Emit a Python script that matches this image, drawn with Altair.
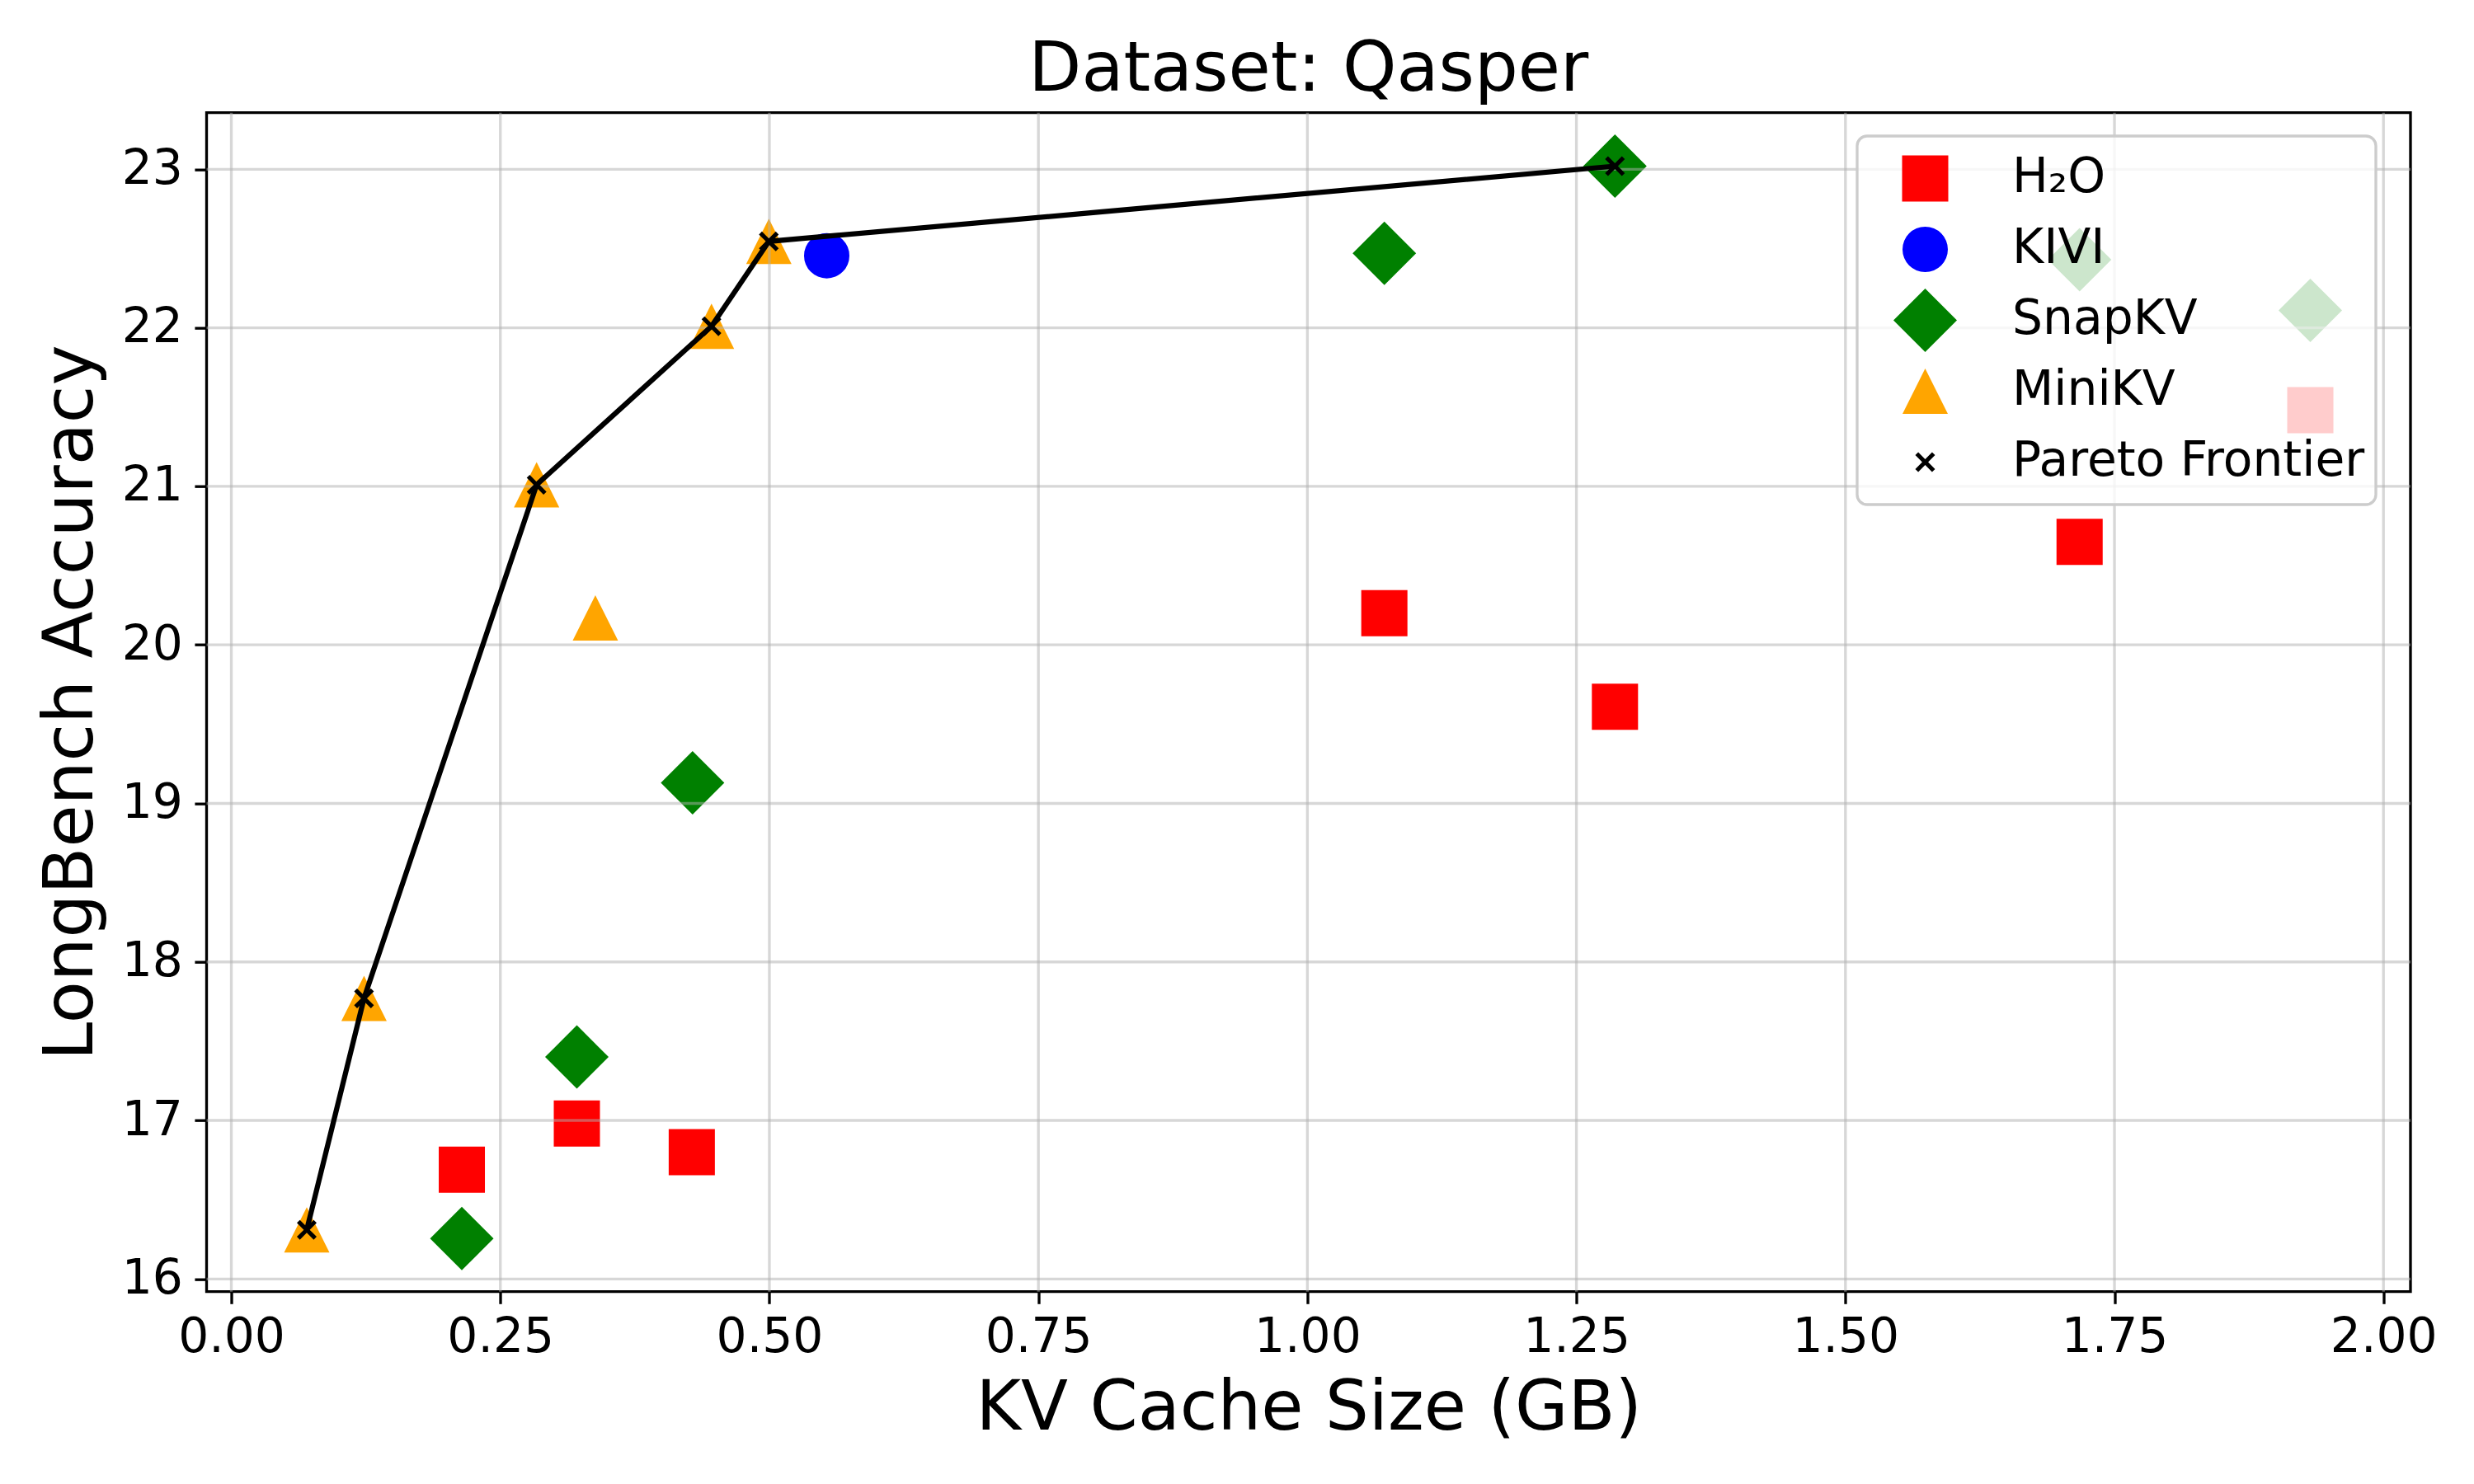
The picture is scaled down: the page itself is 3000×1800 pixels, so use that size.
import altair as alt
import pandas as pd

# ---- data ----
methods = ["H\u2082O", "KIVI", "SnapKV", "MiniKV", "Pareto Frontier"]
colors = ["#ff0000", "#0000ff", "#008000", "#ffa500", "#000000"]

h2o_x = [0.2142, 0.3211, 0.4279, 1.0715, 1.2858, 1.7176]
h2o_y = [16.69, 16.98, 16.80, 20.20, 19.61, 20.65]
h2o_faded_x = [1.932]
h2o_faded_y = [21.48]

kivi_x = [0.5533]
kivi_y = [22.455]

snap_x = [0.2142, 0.3211, 0.4286, 1.0715, 1.2858]
snap_y = [16.255, 17.40, 19.13, 22.47, 23.02]
snap_faded_x = [1.7176, 1.932]
snap_faded_y = [22.43, 22.11]

mini_x = [0.0701, 0.1233, 0.2837, 0.3383, 0.4462, 0.4995]
mini_y = [16.31, 17.77, 21.01, 20.17, 22.01, 22.545]

pareto_x = [0.0701, 0.1233, 0.2837, 0.4462, 0.4995, 1.2858]
pareto_y = [16.31, 17.77, 21.01, 22.01, 22.545, 23.02]

x_ticks = [0.0, 0.25, 0.5, 0.75, 1.0, 1.25, 1.5, 1.75, 2.0]
y_ticks = [16, 17, 18, 19, 20, 21, 22, 23]

# ---- style ----
FONT = "DejaVu Sans"
TRI = "M0,-1L1,1L-1,1Z"
d = 0.3
XPATH = (f"M-1,-{1-d}L-{1-d},-1L0,-{d}L{1-d},-1L1,-{1-d}L{d},0L1,{1-d}"
         f"L{1-d},1L0,{d}L-{1-d},1L-1,{1-d}L-{d},0Z")
shapes = ["square", "circle", "diamond", TRI, XPATH]
sizes = [3136, 3025, 5929, 3025, 576]


def frame(xs, ys, name):
    return pd.DataFrame({"x": xs, "y": ys, "method": [name] * len(xs)})


main_df = pd.concat([
    frame(h2o_x, h2o_y, methods[0]),
    frame(kivi_x, kivi_y, methods[1]),
    frame(snap_x, snap_y, methods[2]),
    frame(mini_x, mini_y, methods[3]),
], ignore_index=True)
faded_df = pd.concat([
    frame(h2o_faded_x, h2o_faded_y, methods[0]),
    frame(snap_faded_x, snap_faded_y, methods[2]),
], ignore_index=True)
pareto_df = frame(pareto_x, pareto_y, methods[4])

X_TITLE = "KV Cache Size (GB)"
Y_TITLE = "LongBench Accuracy"

xscale = alt.Scale(domain=[-0.0230, 2.0251], nice=False, zero=False)
yscale = alt.Scale(domain=[15.92, 23.357], nice=False, zero=False)

x_axis = alt.Axis(values=x_ticks, format=".2f", grid=False, domain=False,
                  ticks=True, tickColor="black", tickWidth=3.33, tickSize=14.6,
                  labelFont=FONT, labelFontSize=58.3, labelColor="black",
                  labelPadding=12.7, labelFlush=False, labelOverlap=False,
                  titleFont=FONT, titleFontSize=83.3, titleFontWeight="normal",
                  titleColor="black", titlePadding=16)
y_axis = alt.Axis(values=y_ticks, format="d", grid=False, domain=False,
                  ticks=True, tickColor="black", tickWidth=3.33, tickSize=14.6,
                  labelFont=FONT, labelFontSize=58.3, labelColor="black",
                  labelPadding=14.6, labelFlush=False, labelOverlap=False,
                  titleFont=FONT, titleFontSize=83.3, titleFontWeight="normal",
                  titleColor="black", titlePadding=19)

# Legend box is white at 80% opacity, drawn over the marks (as in the reference)
legend = alt.Legend(title=None, orient="none", legendX=2001.5, legendY=28.3,
                    direction="vertical", labelFont=FONT, labelFontSize=58.3,
                    labelColor="black", labelLimit=2000, labelOffset=67,
                    symbolOffset=31, padding=13, rowPadding=9, clipHeight=77,
                    fillColor="rgba(255,255,255,0.8)", strokeColor="#cccccc",
                    cornerRadius=12, symbolStrokeWidth=0, symbolOpacity=1)

X_ENC = alt.X("x:Q", scale=xscale, axis=x_axis, title=X_TITLE)
Y_ENC = alt.Y("y:Q", scale=yscale, axis=y_axis, title=Y_TITLE)


def enc():
    return dict(
        x=X_ENC,
        y=Y_ENC,
        color=alt.Color("method:N", scale=alt.Scale(domain=methods, range=colors),
                        legend=legend),
        shape=alt.Shape("method:N", scale=alt.Scale(domain=methods, range=shapes),
                        legend=legend),
        size=alt.Size("method:N",
                      scale=alt.Scale(type="ordinal", domain=methods, range=sizes),
                      legend=legend),
    )


# the faded points all sit under the semi-transparent legend box, which
# lightens them to the pale tint seen in the reference
faded = alt.Chart(faded_df).mark_point(filled=True, opacity=1, strokeWidth=0).encode(**enc())
points = alt.Chart(main_df).mark_point(filled=True, opacity=1, strokeWidth=0).encode(**enc())

vgrid = alt.Chart(pd.DataFrame({"x": x_ticks})).mark_rule(
    color="#b0b0b0", opacity=0.5, strokeWidth=3.33
).encode(x=X_ENC)
hgrid = alt.Chart(pd.DataFrame({"y": y_ticks})).mark_rule(
    color="#b0b0b0", opacity=0.5, strokeWidth=3.33
).encode(y=Y_ENC)

line = alt.Chart(pareto_df).mark_line(color="black", strokeWidth=6.25).encode(
    x=X_ENC, y=Y_ENC
)
pmarks = alt.Chart(pareto_df).mark_point(filled=True, opacity=1, strokeWidth=0).encode(**enc())

chart = alt.layer(points, faded, vgrid, hgrid, line, pmarks).properties(
    width=2672.5,
    height=1430,
    title=alt.TitleParams("Dataset: Qasper", font=FONT, fontSize=83.3,
                          fontWeight="normal", color="black", anchor="middle",
                          baseline="alphabetic", offset=-58.3, frame="group"),
    autosize=alt.AutoSizeParams(type="none"),
    padding={"left": 242.5, "top": 128.7, "right": 60, "bottom": 220},
    background="white",
).configure_view(
    stroke="black", strokeWidth=3.33
).configure_legend(
    strokeWidth=3.33
)

chart.save("out.html", embed_options={"renderer": "svg", "actions": False})
